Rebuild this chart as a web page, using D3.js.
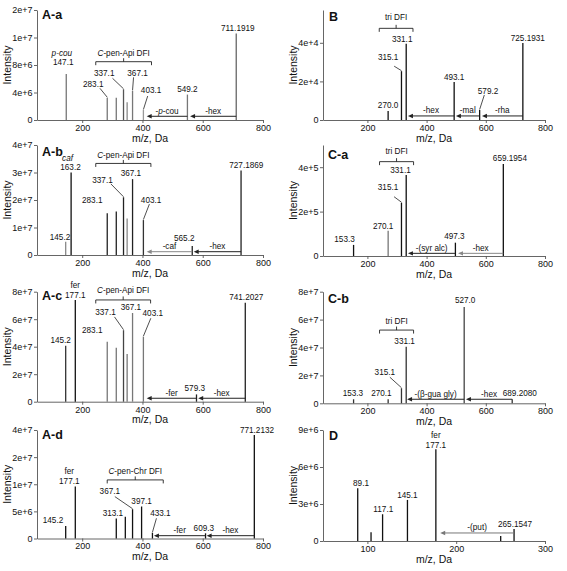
<!DOCTYPE html>
<html><head><meta charset="utf-8">
<script src="https://cdn.jsdelivr.net/npm/d3@7/dist/d3.min.js"></script>
<style>
body{margin:0;background:#fff}
text{font-family:"Liberation Sans",Arial,sans-serif;fill:#111}
</style>
</head><body>
<svg id="c" width="567" height="571"></svg>
<script>
// ---------------- DATA ----------------
// A-a
const aaMz  = [147.1, 283.1, 313.1, 337.1, 349.1, 367.1, 403.1, 549.2, 711.1919];
const aaInt = [6.7e6, 3.24e6, 3.24e6, 4.47e6, 2.57e6, 4.26e6, 1.45e6, 3.7e6, 1.26e7];
const aaLab = ["147.1","283.1","","337.1","","367.1","403.1","549.2","711.1919"];
const aaTag = ["*p-cou*","","","","","","","",""];
const aaYTicks = [0,4e6,8e6,1.2e7,1.6e7];
const aaYTickLab = ["0","4e+6","8e+6","1e+7","2e+7"];
// A-b
const abMz  = [145.2, 163.2, 283.1, 313.1, 337.1, 349.1, 367.1, 403.1, 565.2, 727.1869];
const abInt = [4.8e6, 3.0e7, 1.52e7, 1.58e7, 2.1e7, 1.33e7, 2.76e7, 1.27e7, 3.3e6, 3.07e7];
const abLab = ["145.2","163.2","283.1","","337.1","","367.1","403.1","565.2","727.1869"];
const abTag = ["","*caf*","","","","","","","",""];
const abYTicks = [0,1e7,2e7,3e7,4e7];
const abYTickLab = ["0","1e+7","2e+7","3e+7","4e+7"];
// A-c
const acMz  = [145.2, 177.1, 283.1, 313.1, 337.1, 349.1, 367.1, 403.1, 579.3, 741.2027];
const acInt = [4.07e7, 7.4e7, 4.36e7, 3.93e7, 5.2e7, 3.47e7, 6.45e7, 4.73e7, 5.3e6, 7.2e7];
const acLab = ["145.2","177.1","283.1","","337.1","","367.1","403.1","579.3","741.2027"];
const acTag = ["","fer","","","","","","","",""];
const acYTicks = [0,2e7,4e7,6e7,8e7];
const acYTickLab = ["0","2e+7","4e+7","6e+7","8e+7"];
// A-d
const adMz  = [145.2, 177.1, 313.1, 343.1, 367.1, 397.1, 433.1, 609.3, 771.2132];
const adInt = [2.3e6, 9.6e6, 3.7e6, 4.0e6, 5.4e6, 5.9e6, 1.07e6, 9.6e5, 3.63e7];
const adLab = ["145.2","177.1","313.1","","367.1","397.1","433.1","609.3","771.2132"];
const adTag = ["","fer","","","","","","",""];
const adYTicks = [0,5e6,1e7,2e7,4e7];
const adYTickLab = ["0","5e+6","1e+7","2e+7","4e+7"];
// B
const bMz  = [270.0, 315.1, 331.1, 493.1, 579.2, 725.1931];
const bInt = [4.6e3, 2.53e4, 3.95e4, 1.97e4, 5.2e3, 3.99e4];
const bLab = ["270.0","315.1","331.1","493.1","579.2","725.1931"];
const bYTicks = [0,2e4,4e4];
const bYTickLab = ["0","2e+4","4e+4"];
// C-a
const caMz  = [153.3, 270.1, 315.1, 331.1, 497.3, 659.1954];
const caInt = [5e4, 1.14e5, 2.4e5, 3.65e5, 6e4, 4.14e5];
const caLab = ["153.3","270.1","315.1","331.1","497.3","659.1954"];
const caYTicks = [0,2e5,4e5];
const caYTickLab = ["0","2e+5","4e+5"];
// C-b
const cbMz  = [153.3, 270.1, 315.1, 331.1, 527.0, 689.2080];
const cbInt = [2.9e6, 2.9e6, 1.08e7, 4.06e7, 6.9e7, 2.9e6];
const cbLab = ["153.3","270.1","315.1","331.1","527.0","689.2080"];
const cbYTicks = [0,2e7,4e7,6e7,8e7];
const cbYTickLab = ["0","2e+7","4e+7","6e+7","8e+7"];
// D
const dMz  = [89.1, 104.1, 117.1, 145.1, 177.1, 250.1, 265.1547];
const dInt = [4.27e6, 7e5, 2.17e6, 3.33e6, 7.44e6, 4e5, 9.7e5];
const dLab = ["89.1","","117.1","145.1","177.1","","265.1547"];
const dTag = ["","","","","fer","",""];
const dYTicks = [0,3e6,6e6,9e6];
const dYTickLab = ["0","3e+6","6e+6","9e+6"];

const mzTicks = [200,400,600,800];
const mzTicksD = [100,200,300];

const panels = [
 {id:"A-a", mz:aaMz, int:aaInt, lab:aaLab, tag:aaTag, yStops:[0,1.6e7], yTicks:aaYTicks, yTickLab:aaYTickLab, xDom:[50,800], xTicks:mzTicks},
 {id:"A-b", mz:abMz, int:abInt, lab:abLab, tag:abTag, yStops:[0,4e7], yTicks:abYTicks, yTickLab:abYTickLab, xDom:[50,800], xTicks:mzTicks},
 {id:"A-c", mz:acMz, int:acInt, lab:acLab, tag:acTag, yStops:[0,8e7], yTicks:acYTicks, yTickLab:acYTickLab, xDom:[50,800], xTicks:mzTicks},
 {id:"A-d", mz:adMz, int:adInt, lab:adLab, tag:adTag, yStops:adYTicks, yTicks:adYTicks, yTickLab:adYTickLab, xDom:[50,800], xTicks:mzTicks},
 {id:"B",   mz:bMz, int:bInt, lab:bLab, tag:[], yStops:[0,5.7e4], yTicks:bYTicks, yTickLab:bYTickLab, xDom:[50,800], xTicks:mzTicks},
 {id:"C-a", mz:caMz, int:caInt, lab:caLab, tag:[], yStops:[0,5e5], yTicks:caYTicks, yTickLab:caYTickLab, xDom:[50,800], xTicks:mzTicks},
 {id:"C-b", mz:cbMz, int:cbInt, lab:cbLab, tag:[], yStops:[0,8e7], yTicks:cbYTicks, yTickLab:cbYTickLab, xDom:[50,800], xTicks:mzTicks},
 {id:"D",   mz:dMz, int:dInt, lab:dLab, tag:dTag, yStops:[0,9e6], yTicks:dYTicks, yTickLab:dYTickLab, xDom:[50,300], xTicks:mzTicksD},
];

// annotations in data units: brackets and neutral-loss arrows
const brackets = {
 "A-a": {x0:245, x1:430, y:8.48e6, t:"*C*-pen-Api DFI", gap:8.5},
 "A-b": {x0:245, x1:428, y:3.33e7, t:"*C*-pen-Api DFI", gap:8.5},
 "A-c": {x0:245, x1:427, y:7.4e7,  t:"*C*-pen-Api DFI", gap:9.5},
 "A-d": {x0:283, x1:469, y:1.16e7, t:"*C*-pen-Chr DFI", gap:8.5},
 "B":   {x0:240, x1:354, y:4.75e4, t:"tri DFI", gap:11},
 "C-a": {x0:241, x1:356, y:4.25e5, t:"tri DFI", gap:11},
 "C-b": {x0:241, x1:356, y:5.25e7, t:"tri DFI", gap:8.5},
};
const arrows = {
 "A-a": [{from:549.2, to:414, y:5.4e5, t:"-*p*-cou"}, {from:711.19, to:558, y:5.4e5, t:"-hex"}],
 "A-b": [{from:565.2, to:414, y:1.2e6, t:"-caf", c:"#888"}, {from:727.19, to:570, y:1.2e6, t:"-hex"}],
 "A-c": [{from:579.3, to:414, y:2.5e6, t:"-fer"}, {from:741.2, to:585, y:2.5e6, t:"-hex"}],
 "A-d": [{from:609.3, to:438, y:5.2e5, t:"-fer"}, {from:771.2, to:613, y:5.2e5, t:"-hex"}],
 "B":   [{from:493.1, to:337, y:2.1e3, t:"-hex"}, {from:579.2, to:499, y:2.1e3, t:"-mal"}, {from:725.19, to:587, y:2.1e3, t:"-rha"}],
 "C-a": [{from:497.3, to:337, y:1.2e4, t:"-(syr alc)"}, {from:659.2, to:506, y:1.2e4, t:"-hex", c:"#888"}],
 "C-b": [{from:527.0, to:334, y:2.9e6, t:"-(β-gua gly)"}, {from:689.2, to:533, y:2.9e6, t:"-hex"}],
 "D":   [{from:265.15, to:182, y:6.5e5, t:"-(put)", c:"#777"}],
};

// ---------------- LAYOUT / STYLE ----------------
const layout = {
 "A-a": {x:[37,263], y:[120,10],      title:[5,5]},
 "A-b": {x:[37,263], y:[255,145],     title:[5,6.5]},
 "A-c": {x:[37,263], y:[401.7,291.7], title:[5,3.5]},
 "A-d": {x:[37,263], y:[538.5,430],   title:[5,5]},
 "B":   {x:[323,545], y:[120,10],     title:[6,6.5]},
 "C-a": {x:[323,545], y:[256,145],    title:[5,10]},
 "C-b": {x:[323,545], y:[403.3,291.7],title:[5,6.5]},
 "D":   {x:[323,545], y:[541,430],    title:[6,6]},
};
// label offsets (px) relative to the top of each peak; leader start offsets
const labelStyle = {
 "A-a": {off:[[-3,-12],[-14,-13.7],null,[-19.3,-16.6],null,[5,-18],[7.7,-20],[0,-5.5],[1.6,-5]],
         lead:[null,[-7.3,-9.4],null,[-11,-11],null,[1,-13.4],[4.3,-14],null,null],
         tag:[-1.4,-9],
         shade:["#777","#777","#777","#555","#888","#777","#999","#777","#666"]},
 "A-b": {off:[[-5.7,-5],[-0.6,-5.6],[-15,-13.3],null,[-21,-17.3],null,[-1.6,-5.7],[7.7,-20],[-8,-7.5],[5.3,-5.7]],
         lead:[null,null,null,null,[-12.6,-13.3],null,null,[6,-16],null,null],
         tag:[-3,-9.2],
         shade:["#888","#111","#222","#222","#222","#888","#222","#333","#222","#222"]},
 "A-c": {off:[[-5,-5.7],[0,-5],[-15,-11.7],null,[-18,-18.3],null,[-1.6,-5.5],[9.4,-23.4],[-1.7,-6],[1,-6]],
         lead:[null,null,null,null,[-9,-13.3],null,null,[7.4,-18.4],null,null],
         tag:[0,-10],
         shade:["#333","#111","#777","#777","#444","#777","#777","#777","#222","#222"]},
 "A-d": {off:[[-12.7,-6],[-6,-5],[-3.4,-5],null,[-22.7,-17.6],[0,-5],[8,-19.4],[-1.7,-5],[2.7,-5]],
         lead:[null,null,null,null,[-17.7,-12.6],null,[4,-14.4],null,null],
         tag:[0,-10],
         shade:[]},
 "B":   {off:[[0,-6],[-13.3,-14.3],[-4,-5],[0,-5],[8.4,-19.3],[5,-5]],
         lead:[null,[-7.3,-5],null,null,[4.7,-15],null], shade:[]},
 "C-a": {off:[[-9,-5.7],[-5,-5],[-13.4,-16],[-5.7,-5],[-1,-6.7],[6.6,-5.7]],
         lead:[null,null,[-7.4,-6],null,null,null], shade:["#111","#777"]},
 "C-b": {off:[[-0.7,-6],[-6.7,-6],[-16.6,-16.6],[-1.6,-5.7],[1,-6.7],[7.6,-6]],
         lead:[null,null,[-11.6,-11],null,null,null], shade:["#333","#333","#333","#333","#444","#333"]},
 "D":   {off:[[3.3,-5],null,[0.7,-5],[0,-5],[0,-4.5],null,[1,-5]],
         lead:[], tag:[0,-9.2], shade:[]},
};

const FS = {tick:9, title:10.5, lab:8.2, ann:8.2, panel:12.5};

function rich(sel, str){
  str.split("*").forEach((s,i)=>{ if(s) sel.append("tspan").attr("font-style", i%2 ? "italic" : null).text(s); });
}

// ---------------- DRAW ----------------
const svg = d3.select("#c");
svg.append("rect").attr("width",567).attr("height",571).attr("fill","#fff");

panels.forEach(p=>{
  const L = layout[p.id], S = labelStyle[p.id];
  const x = d3.scaleLinear().domain(p.xDom).range(L.x);
  const n = p.yStops.length;
  const y = d3.scaleLinear().domain(p.yStops)
     .range(p.yStops.map((d,i)=> L.y[0] + (L.y[1]-L.y[0])*i/(n-1)));
  const g = svg.append("g");

  // axes
  const ya = g.append("g").attr("transform",`translate(${L.x[0]},0)`)
    .call(d3.axisLeft(y).tickValues(p.yTicks).tickFormat((d,i)=>p.yTickLab[i]).tickSize(3).tickSizeOuter(0).tickPadding(1.5));
  const xa = g.append("g").attr("transform",`translate(0,${L.y[0]})`)
    .call(d3.axisBottom(x).tickValues(p.xTicks).tickFormat(d3.format("d")).tickSize(3).tickSizeOuter(0).tickPadding(1.5));
  [ya,xa].forEach(a=>{
    a.selectAll("path,line").attr("stroke","#555").attr("stroke-width",0.9);
    a.selectAll("text").attr("font-size",FS.tick).attr("font-family",'"Liberation Sans",Arial,sans-serif').attr("fill","#222");
  });

  // axis titles
  g.append("text").attr("x",(L.x[0]+L.x[1])/2).attr("y",L.y[0]+18).attr("dy","0.35em")
    .attr("text-anchor","middle").attr("font-size",FS.title).text("m/z, Da");
  g.append("text").attr("transform",`translate(${L.x[0]-29.5},${(L.y[0]+L.y[1])/2}) rotate(-90)`)
    .attr("dy","0.35em").attr("text-anchor","middle").attr("font-size",FS.title).text("Intensity");

  // panel title
  g.append("text").attr("x",L.x[0]+L.title[0]).attr("y",L.y[1]+L.title[1]).attr("dy","0.35em")
    .attr("font-size",FS.panel).attr("font-weight","bold").text(p.id);

  // peaks
  const idx = d3.range(p.mz.length);
  g.selectAll(".pk").data(idx).join("line")
    .attr("x1",i=>x(p.mz[i])).attr("x2",i=>x(p.mz[i]))
    .attr("y1",y(0)).attr("y2",i=>y(p.int[i]))
    .attr("stroke",i=>S.shade[i]||"#111").attr("stroke-width",1.3);

  // labels, leaders, tags
  idx.forEach(i=>{
    const px = x(p.mz[i]), py = y(p.int[i]);
    const o = S.off[i];
    if(p.lab[i] && o){
      g.append("text").attr("x",px+o[0]).attr("y",py+o[1]).attr("dy","0.35em")
        .attr("text-anchor","middle").attr("font-size",FS.lab).text(p.lab[i]);
      const ld = S.lead[i];
      if(ld) g.append("line").attr("x1",px+ld[0]).attr("y1",py+ld[1]).attr("x2",px).attr("y2",py-0.5)
        .attr("stroke","#222").attr("stroke-width",0.8);
      if(p.tag[i]){
        const t = g.append("text").attr("x",px+o[0]+S.tag[0]).attr("y",py+o[1]+S.tag[1]).attr("dy","0.35em")
          .attr("text-anchor","middle").attr("font-size",FS.lab);
        rich(t,p.tag[i]);
      }
    }
  });

  // bracket
  const b = brackets[p.id];
  if(b){
    const bx0=x(b.x0), bx1=x(b.x1), by=y(b.y), bm=(bx0+bx1)/2;
    g.append("path").attr("d",`M${bx0},${by+3.5}V${by}H${bx1}V${by+3.5}M${bm},${by}V${by-3.5}`)
      .attr("fill","none").attr("stroke","#222").attr("stroke-width",0.9);
    const t = g.append("text").attr("x",bm).attr("y",by-b.gap).attr("dy","0.35em")
      .attr("text-anchor","middle").attr("font-size",FS.ann);
    rich(t,b.t);
  }

  // neutral-loss arrows
  (arrows[p.id]||[]).forEach(a=>{
    const ax0=x(a.from), ax1=x(a.to), ay=y(a.y), c=a.c||"#222";
    g.append("line").attr("x1",ax0).attr("x2",ax1+4).attr("y1",ay).attr("y2",ay)
      .attr("stroke",c).attr("stroke-width",1);
    g.append("path").attr("d",`M${ax1},${ay}L${ax1+5},${ay-2.2}L${ax1+5},${ay+2.2}Z`).attr("fill",c);
    const t = g.append("text").attr("x",(ax0+ax1)/2).attr("y",ay-5.5).attr("dy","0.35em")
      .attr("text-anchor","middle").attr("font-size",FS.ann);
    rich(t,a.t);
  });
});
</script>
</body></html>
